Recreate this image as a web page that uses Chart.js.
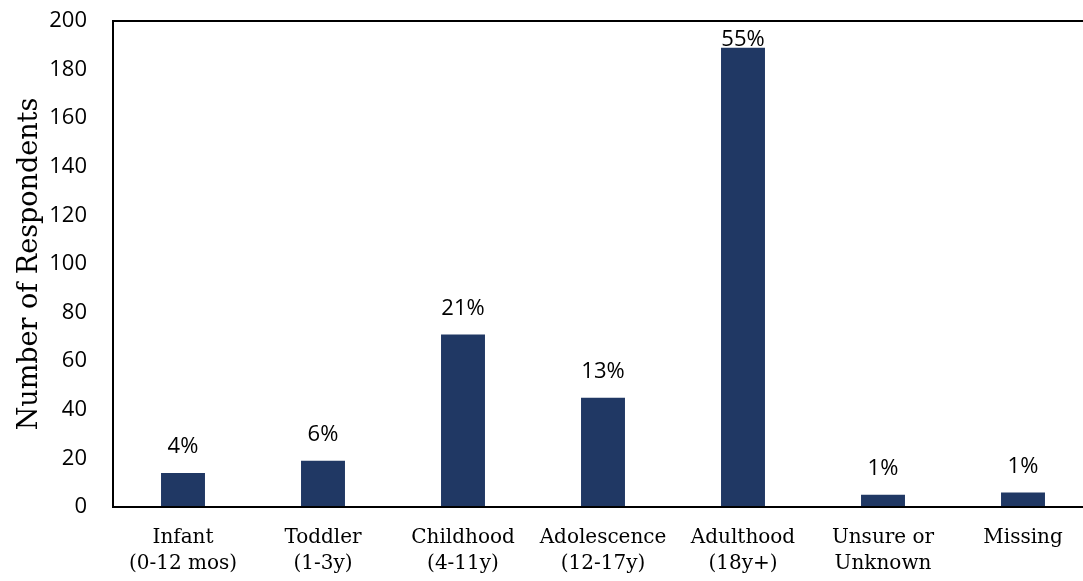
<!DOCTYPE html>
<html>
<head>
<meta charset="utf-8">
<script src="https://cdn.jsdelivr.net/npm/chart.js@4/dist/chart.umd.min.js"></script>
<style>
  html, body { margin: 0; padding: 0; background: #fff; overflow: hidden; }
  #wrap { position: relative; width: 1100px; height: 581px; }
</style>
</head>
<body>
<div id="wrap"><canvas id="ageChart"></canvas></div>
<script>
/* Age at onset — respondent counts with share labels */
const categories = [
  ['Infant', '(0-12 mos)'],
  ['Toddler', '(1-3y)'],
  ['Childhood', '(4-11y)'],
  ['Adolescence', '(12-17y)'],
  ['Adulthood', '(18y+)'],
  ['Unsure or', 'Unknown'],
  ['Missing']
];
const respondents = [14, 19, 71, 45, 189, 5, 6];
const shareLabels = ['4%', '6%', '21%', '13%', '55%', '1%', '1%'];
const yTicks = [0, 20, 40, 60, 80, 100, 120, 140, 160, 180, 200];

const BAR_COLOR = '#203864';
const SERIF = '"DejaVu Serif", serif';

// plot frame: full box around the chart area
const frame = {
  id: 'frame',
  afterDatasetsDraw(chart) {
    const { ctx, chartArea: a } = chart;
    ctx.save();
    ctx.strokeStyle = '#000';
    ctx.lineWidth = 2;
    ctx.strokeRect(a.left, a.top, a.right - a.left, a.bottom - a.top);
    ctx.restore();
  }
};

// percentage labels above each bar, kept inside the plot box
const shareText = {
  id: 'shareText',
  afterDatasetsDraw(chart) {
    const { ctx, chartArea: a } = chart;
    const meta = chart.getDatasetMeta(0);
    ctx.save();
    ctx.font = '22px "Open Sans"';
    ctx.fillStyle = '#000';
    ctx.textAlign = 'center';
    ctx.textBaseline = 'middle';
    meta.data.forEach((bar, i) => {
      const y = Math.max(bar.y - 26, a.top + 19);
      ctx.fillText(shareLabels[i], bar.x, y);
    });
    ctx.restore();
  }
};

new Chart(document.getElementById('ageChart'), {
  type: 'bar',
  data: {
    labels: categories,
    datasets: [{
      data: respondents,
      backgroundColor: BAR_COLOR,
      borderWidth: 0,
      categoryPercentage: 1,
      barPercentage: 0.314
    }]
  },
  options: {
    responsive: true,
    maintainAspectRatio: false,
    animation: false,
    layout: { padding: { top: 21, right: 7, left: 0, bottom: 0 } },
    plugins: {
      legend: { display: false },
      tooltip: { enabled: false }
    },
    scales: {
      x: {
        grid: { display: false, drawTicks: false },
        border: { display: false },
        ticks: {
          color: '#000',
          padding: 18,
          maxRotation: 0,
          autoSkip: false,
          font: { family: SERIF, size: 20, lineHeight: 1.3 }
        },
        afterFit: s => { s.height = 74; }
      },
      y: {
        min: 0,
        max: 200,
        afterBuildTicks: s => { s.ticks = yTicks.map(v => ({ value: v })); },
        grid: { display: false, drawTicks: false },
        border: { display: false },
        ticks: {
          color: '#000',
          padding: 26,
          font: { family: '"Open Sans"', size: 22 }
        },
        title: {
          display: true,
          text: 'Number of Respondents',
          color: '#000',
          padding: { top: 14, bottom: 0 },
          font: { family: SERIF, size: 27 }
        },
        afterFit: s => {
          s.width = 113;
          // label overhang is covered by the layout padding
          s.paddingTop = 0;
          s.paddingBottom = 0;
        }
      }
    }
  },
  plugins: [frame, shareText]
});
</script>
</body>
</html>
